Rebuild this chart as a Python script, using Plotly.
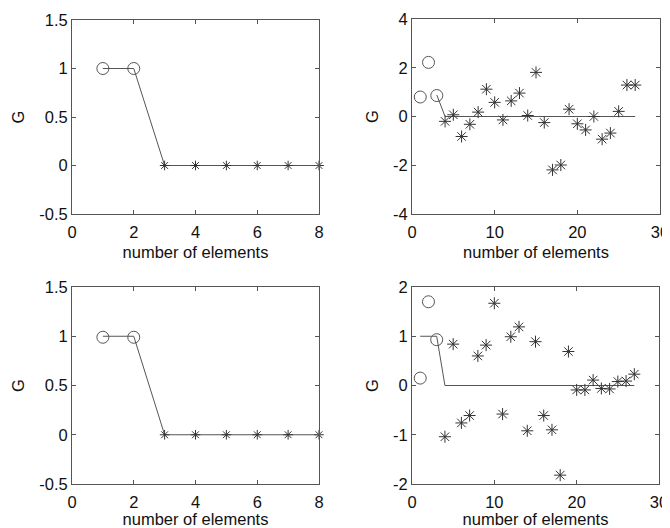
import plotly.graph_objects as go

# ---------- data ----------
# top-left
tl_line_x = [1, 2, 3, 4, 5, 6, 7, 8]
tl_line_y = [1, 1, 0, 0, 0, 0, 0, 0]
tl_circ_x = [1, 2]
tl_circ_y = [1.0, 1.0]
tl_star_x = [3, 4, 5, 6, 7, 8]
tl_star_y = [0.0, 0.0, 0.0, 0.0, 0.0, 0.0]

# bottom-left
bl_line_x = [1, 2, 3, 4, 5, 6, 7, 8]
bl_line_y = [1, 1, 0, 0, 0, 0, 0, 0]
bl_circ_x = [1, 2]
bl_circ_y = [0.99, 0.99]
bl_star_x = [3, 4, 5, 6, 7, 8]
bl_star_y = [0.0, 0.0, 0.0, 0.0, 0.0, 0.0]

# top-right
tr_line_x = [3] + list(range(4, 28))
tr_line_y = [0.88] + [0] * 24
tr_circ_x = [1, 2, 3]
tr_circ_y = [0.80, 2.22, 0.86]
tr_star_x = list(range(4, 28))
tr_star_y = [-0.20, 0.07, -0.82, -0.32, 0.18, 1.12, 0.58, -0.14, 0.64, 0.96,
             0.04, 1.81, -0.25, -2.19, -1.99, 0.30, -0.30, -0.55, 0.00, -0.93,
             -0.68, 0.21, 1.29, 1.29]

# bottom-right
br_line_x = [1, 3] + list(range(4, 28))
br_line_y = [1, 1] + [0] * 24
br_circ_x = [1, 2, 3]
br_circ_y = [0.15, 1.70, 0.93]
br_star_x = list(range(4, 28))
br_star_y = [-1.04, 0.84, -0.76, -0.61, 0.60, 0.82, 1.67, -0.58, 0.99, 1.19,
             -0.92, 0.89, -0.61, -0.90, -1.82, 0.69, -0.09, -0.09, 0.11, -0.06,
             -0.07, 0.08, 0.09, 0.23]

x_label = "number of elements"
y_label = "G"

# ---------- figure ----------
# the page body has an 8px margin, so the figure is drawn 8px smaller and
# all pixel boxes are given relative to the figure origin (page - 8)
OFF = 8
W, H = 670 - OFF, 528 - OFF
FONT = dict(family="Liberation Sans, Arial, sans-serif", size=16.5, color="#111")
LINE_C = "#555"
MARK_C = "#333"

panels = [
    (tl_line_x, tl_line_y, tl_circ_x, tl_circ_y, tl_star_x, tl_star_y,
     [0, 8], [0, 2, 4, 6, 8], [-0.5, 1.5], [-0.5, 0, 0.5, 1, 1.5], (72, 319, 20, 214), 8),
    (tr_line_x, tr_line_y, tr_circ_x, tr_circ_y, tr_star_x, tr_star_y,
     [0, 30], [0, 10, 20, 30], [-4, 4], [-4, -2, 0, 2, 4], (412, 660, 19, 214), 10),
    (bl_line_x, bl_line_y, bl_circ_x, bl_circ_y, bl_star_x, bl_star_y,
     [0, 8], [0, 2, 4, 6, 8], [-0.5, 1.5], [-0.5, 0, 0.5, 1, 1.5], (72, 319, 287, 484), 8),
    (br_line_x, br_line_y, br_circ_x, br_circ_y, br_star_x, br_star_y,
     [0, 30], [0, 10, 20, 30], [-2, 2], [-2, -1, 0, 1, 2], (412, 659, 287, 484), 10),
]

fig = go.Figure()
layout = dict(
    width=W, height=H,
    margin=dict(l=0, r=0, t=0, b=0, autoexpand=False),
    paper_bgcolor="white", plot_bgcolor="white",
    showlegend=False,
    font=FONT,
)

for i, (lx, ly, cx, cy, sx, sy, xr, xt, yr, yt, box, msize) in enumerate(panels):
    n = "" if i == 0 else str(i + 1)
    xa, ya = "x" + n, "y" + n
    fig.add_trace(go.Scatter(x=lx, y=ly, mode="lines", xaxis=xa, yaxis=ya,
                             line=dict(color=LINE_C, width=1), cliponaxis=False))
    fig.add_trace(go.Scatter(x=cx, y=cy, mode="markers", xaxis=xa, yaxis=ya, cliponaxis=False,
                             marker=dict(symbol="circle-open", size=12,
                                         color="#555", line=dict(width=1, color="#555"))))
    fig.add_trace(go.Scatter(x=sx, y=sy, mode="markers", xaxis=xa, yaxis=ya, cliponaxis=False,
                             marker=dict(symbol="asterisk-open", size=msize,
                                         color=MARK_C, line=dict(width=1, color=MARK_C))))
    l, r, t, b = (v - OFF for v in box)
    ax_common = dict(showgrid=False, zeroline=False, showline=True, mirror="ticks",
                     linecolor="#555", linewidth=1, ticks="inside", ticklen=4,
                     tickcolor="#555", tickfont=FONT, automargin=False)
    layout["xaxis" + n] = dict(ax_common, domain=[l / W, r / W], range=xr,
                               tickvals=xt, anchor=ya, ticklabelstandoff=3,
                               title=dict(text=x_label, font=FONT, standoff=6))
    layout["yaxis" + n] = dict(ax_common, domain=[1 - b / H, 1 - t / H], range=yr,
                               tickvals=yt, ticktext=[f"{v:g}" for v in yt],
                               anchor=xa,
                               title=dict(text=y_label, font=FONT, standoff=10))

fig.update_layout(**layout)
fig.write_html("out.html")
